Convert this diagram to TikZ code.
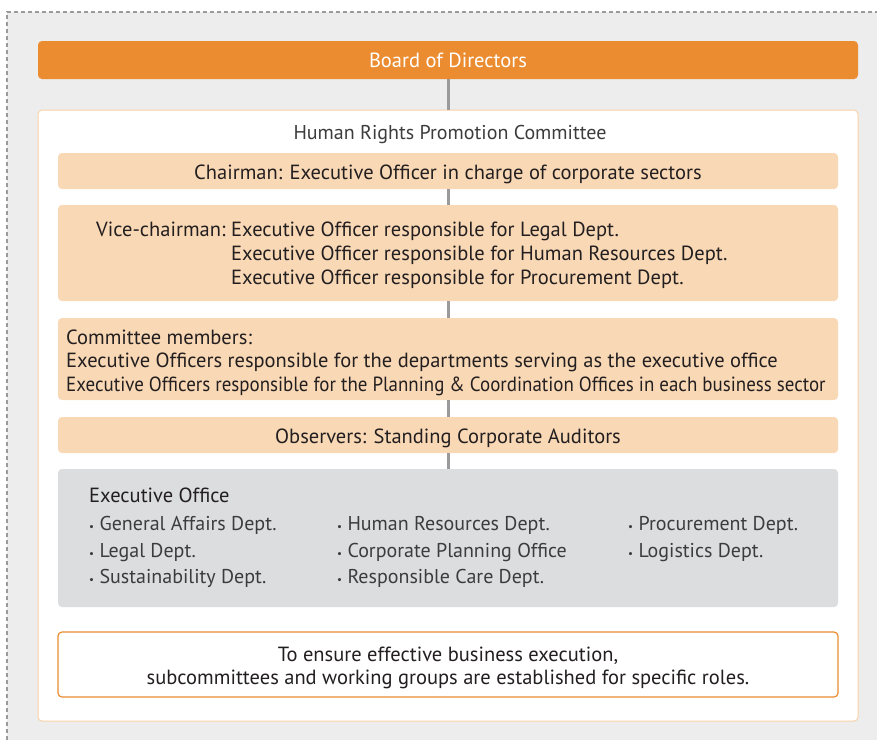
\documentclass[tikz,border=0pt]{standalone}
\usepackage{fontspec}
\setmainfont{PT Sans}
\definecolor{bgc}{HTML}{EDEDED}
\definecolor{dashc}{HTML}{9A9A9A}
\definecolor{orangec}{HTML}{EB8C30}
\definecolor{peachc}{HTML}{F9D8B5}
\definecolor{outerc}{HTML}{F9D2A8}
\definecolor{grayboxc}{HTML}{DCDDDF}
\definecolor{linkc}{HTML}{9A9A9C}
\definecolor{txtc}{HTML}{231F20}
\definecolor{lightc}{HTML}{3C3C3C}
\newcommand{\smallbul}{{\fontsize{11}{11}\selectfont•}}
\begin{document}
\begin{tikzpicture}[x=1pt,y=-1pt,
  boxbase/.style={rectangle, rounded corners=4pt, inner sep=0pt, minimum width=780},
  peachbox/.style={boxbase, fill=peachc},
  graybox/.style={boxbase, fill=grayboxc},
  notebox/.style={boxbase, fill=white, draw=orangec, line width=1.2pt},
  outerbox/.style={rectangle, rounded corners=4pt, inner sep=0pt, minimum width=820, minimum height=611, fill=white, draw=outerc, line width=1pt},
  boardbox/.style={rectangle, rounded corners=4pt, inner sep=0pt, minimum width=820, minimum height=38, fill=orangec},
  txt/.style={inner sep=0pt, text=txtc, font=\fontsize{20.5}{24}\selectfont},
  txtlight/.style={inner sep=0pt, text=lightc, font=\fontsize{20}{26.5}\selectfont},
  link/.style={draw=linkc, line width=3pt}
]
\useasboundingbox (0,0) rectangle (877,740);
\fill[bgc] (7,12) rectangle (877,740);
\draw[dashc, line width=1.2pt, dash pattern=on 4pt off 3pt] (7,740) -- (7,12) -- (877,12);

% boxes
\node[boardbox] (board) at (448,60) {};
\node[outerbox] (outer) at (448,415.5) {};
\node[peachbox, minimum height=36] (chair) at (448,171) {};
\node[peachbox, minimum height=96] (vice) at (448,253) {};
\node[peachbox, minimum height=82] (memb) at (448,359) {};
\node[peachbox, minimum height=36] (obs) at (448,435) {};
\node[graybox, minimum height=138] (exec) at (448,538) {};
\node[notebox, minimum height=65] (note) at (448,664.5) {};

% connectors
\draw[link] (board.south) -- (outer.north);
\draw[link] (chair.south) -- (vice.north);
\draw[link] (vice.south) -- (memb.north);
\draw[link] (memb.south) -- (obs.north);
\draw[link] (obs.south) -- (exec.north);

% texts
\node[txt, text=white, anchor=base] (boardT) at (448,67) {Board of Directors};
\node[txtlight, anchor=base] (hrpcT) at (450,139.5) {Human Rights Promotion Committee};
\node[txt, anchor=base] (chairT) at (448,179) {Chairman: Executive Officer in charge of corporate sectors};
\node[txt, anchor=base west] (viceA) at (96,236.5) {Vice-chairman:};
\node[txt, anchor=base west] (vice1) at (231,236.5) {Executive Officer responsible for Legal Dept.};
\node[txt, anchor=base west] (vice2) at (231,260.5) {Executive Officer responsible for Human Resources Dept.};
\node[txt, anchor=base west] (vice3) at (231,284.5) {Executive Officer responsible for Procurement Dept.};
\node[txt, anchor=base west] (memb1) at (66,344) {Committee members:};
\node[txt, anchor=base west] (memb2) at (66,367) {Executive Officers responsible for the departments serving as the executive office};
\node[txt, anchor=base west] (memb3) at (66,391) {\scalebox{0.924}[1]{Executive Officers responsible for the Planning \& Coordination Offices in each business sector}};
\node[txt, anchor=base] (obsT) at (448,443) {Observers: Standing Corporate Auditors};
\node[txt, anchor=base west] (execT) at (89,502.5) {Executive Office};
\node[txtlight, anchor=base west] (e11) at (89,530) {\smallbul\ General Affairs Dept.};
\node[txtlight, anchor=base west] (e12) at (89,557) {\smallbul\ Legal Dept.};
\node[txtlight, anchor=base west] (e13) at (89,583) {\smallbul\ Sustainability Dept.};
\node[txtlight, anchor=base west] (e21) at (337,530) {\smallbul\ Human Resources Dept.};
\node[txtlight, anchor=base west] (e22) at (337,557) {\smallbul\ Corporate Planning Office};
\node[txtlight, anchor=base west] (e23) at (337,583) {\smallbul\ Responsible Care Dept.};
\node[txtlight, anchor=base west] (e31) at (628,530) {\smallbul\ Procurement Dept.};
\node[txtlight, anchor=base west] (e32) at (628,557) {\smallbul\ Logistics Dept.};
\node[txt, anchor=base] (note1) at (448,661) {To ensure effective business execution,};
\node[txt, anchor=base] (note2) at (448,684.5) {subcommittees and working groups are established for specific roles.};
\end{tikzpicture}
\end{document}
